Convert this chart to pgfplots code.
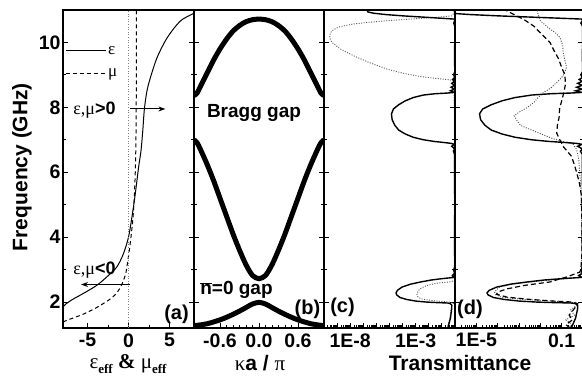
\documentclass[border=0pt]{standalone}
\usepackage{pgfplots}
\usepackage{pgfplotstable}
\pgfplotsset{compat=1.18}
\usepackage{fontspec}
\setmainfont{Liberation Sans}
\newfontfamily\serif{Liberation Serif}
\usetikzlibrary{arrows.meta}

\newcommand{\tf}{\rmfamily\fontsize{19.5bp}{21bp}\selectfont\bfseries}
\newcommand{\af}{\rmfamily\fontsize{18bp}{20bp}\selectfont\bfseries}
\newcommand{\lf}{\rmfamily\fontsize{21bp}{24bp}\selectfont\bfseries}
\newcommand{\pf}{\rmfamily\fontsize{20bp}{22bp}\selectfont\bfseries}
\newcommand{\gf}{\serif\fontsize{18bp}{20bp}\selectfont}

\pgfplotstableread{
F L
1.20 -0.55
1.35 -0.45
1.50 -0.35
1.65 -0.30
1.80 -0.25
1.90 -0.25
1.95 -0.35
1.97 -0.55
1.985 -1.5
2.00 -2.2
2.03 -3.0
2.08 -3.7
2.14 -4.2
2.22 -4.45
2.28 -4.5
2.36 -4.4
2.46 -4.05
2.55 -3.4
2.62 -2.6
2.68 -1.8
2.72 -1.0
2.745 -0.4
2.76 -0.05
2.82 -0.2
2.88 -0.03
2.98 -0.1
3.10 -0.02
4.00 -0.03
5.00 -0.02
6.00 -0.03
6.55 -0.03
6.65 -0.12
6.72 -0.03
6.80 -0.25
6.86 -0.05
6.89 -0.3
6.91 -0.7
6.95 -1.6
7.00 -2.4
7.08 -3.2
7.18 -3.8
7.30 -4.3
7.45 -4.6
7.62 -4.8
7.80 -4.85
7.95 -4.7
8.08 -4.3
8.20 -3.8
8.30 -3.2
8.38 -2.4
8.42 -1.5
8.44 -0.6
8.46 -0.05
8.51 -0.35
8.56 -0.05
8.62 -0.3
8.68 -0.04
8.74 -0.25
8.80 -0.04
8.86 -0.18
8.92 -0.03
9.00 -0.1
9.10 -0.02
9.60 -0.03
10.10 -0.02
10.50 -0.02
10.60 -0.1
10.66 -0.03
10.72 -0.05
10.74 -0.8
10.78 -2.4
10.82 -4.0
10.86 -5.3
10.90 -6.2
10.94 -6.65
10.98 -6.7
11.02 -6.6
}\solidT

\pgfplotstableread{
F L
1.20 -0.6
1.40 -0.45
1.60 -0.35
1.80 -0.3
1.92 -0.2
1.97 -0.1
2.00 -0.4
2.04 -1.66
2.10 -2.6
2.17 -2.85
2.26 -2.92
2.40 -2.7
2.51 -2.16
2.58 -1.4
2.62 -0.4
2.66 -0.05
3.50 -0.05
5.00 -0.06
6.50 -0.05
8.00 -0.06
8.80 -0.08
8.85 -0.39
8.89 -1.4
8.95 -2.67
9.05 -3.94
9.18 -5.2
9.37 -6.48
9.59 -7.75
9.80 -8.76
10.00 -9.39
10.10 -9.52
10.20 -9.57
10.30 -9.5
10.36 -9.39
10.43 -9.1
10.49 -8.76
10.57 -7.75
10.62 -6.6
10.67 -5.2
10.74 -2.67
10.78 -1.3
10.82 -0.26
10.90 -0.08
11.05 -0.1
}\dotC

\pgfplotstableread{
F L
1.20 -0.6
1.30 -0.8
1.45 -0.5
1.60 -0.65
1.80 -0.4
1.95 -0.25
2.00 -0.47
2.03 -1.39
2.08 -2.46
2.15 -3.55
2.24 -4.05
2.31 -4.0
2.41 -3.53
2.51 -2.77
2.62 -1.54
2.70 -1.15
2.77 -0.77
2.85 -0.45
2.92 -0.16
3.00 -0.1
3.50 -0.05
4.50 -0.05
5.30 -0.08
5.64 -0.16
6.00 -0.3
6.36 -0.47
6.50 -0.55
6.77 -0.9
6.95 -1.05
7.20 -1.23
7.45 -1.2
7.69 -1.12
7.95 -1.1
8.20 -1.0
8.45 -0.9
8.72 -0.82
9.00 -0.85
9.23 -1.0
9.50 -1.15
9.74 -1.35
10.00 -1.55
10.26 -1.95
10.50 -2.3
10.72 -2.8
10.85 -3.2
11.00 -3.65
11.05 -3.8
}\dashD

\pgfplotstableread{
F L
1.20 -0.7
1.30 -0.5
1.45 -0.8
1.60 -0.4
1.75 -0.6
1.90 -0.3
1.98 -0.4
2.02 -1.23
2.08 -2.77
2.15 -3.84
2.23 -4.1
2.31 -4.15
2.46 -3.92
2.57 -3.23
2.67 -1.69
2.72 -0.8
2.76 -0.2
3.00 -0.05
4.50 -0.05
5.50 -0.1
6.40 -0.2
6.70 -0.3
6.87 -0.47
6.97 -1.08
7.03 -1.39
7.23 -2.15
7.44 -2.92
7.60 -3.1
7.74 -3.23
7.85 -3.0
8.00 -2.6
8.15 -2.31
8.30 -2.1
8.46 -1.85
8.60 -1.5
8.72 -1.31
8.85 -1.1
8.98 -0.93
9.23 -0.77
9.45 -0.85
9.69 -0.93
9.90 -0.95
10.15 -1.08
10.30 -1.3
10.41 -1.54
10.55 -1.8
10.67 -2.0
10.85 -2.1
11.00 -2.15
11.05 -2.2
}\dotD

\pgfplotsset{
 panel/.style={
   scale only axis, height=318bp, ymin=1.2, ymax=11,
   anchor=north west,
   axis line style={line width=1.2bp},
   every tick/.style={line width=0.9bp, black},
   major tick length=5bp, minor tick length=3bp,
   tick align=inside,
   xtick pos=bottom, ytick pos=both,
   ytick={2,4,6,8,10}, minor y tick num=1,
   yticklabels={},
   tick label style={font=\tf},
   xticklabel style={yshift=-2bp},
   yticklabel style={xshift=1bp},
   /pgf/number format/assume math mode=true,
 }
}

\begin{document}
\begin{tikzpicture}
% (a)
\begin{axis}[panel, at={(63bp,-10bp)}, width=131bp,
  xmin=-8, xmax=8, xtick={-5,0,5}, xticklabels={-5,0,5}, minor x tick num=1,
  yticklabels={2,4,6,8,10},
  legend style={draw=none, fill=none, at={(0,1)}, anchor=north west,
    xshift=2bp, yshift=-34bp, font=\serif\fontsize{17bp}{19bp}\selectfont,
    row sep=9bp, inner sep=0pt},
  legend cell align=left,
  legend image code/.code={\draw[#1] (0bp,0bp) -- (40bp,0bp);}]
\addplot[black, line width=1bp, smooth] coordinates {
(-8.0,1.85) (-7.6,1.95) (-6.7,2.1) (-5.55,2.26) (-3.9,2.51) (-2.67,2.77)
(-1.43,3.08) (-0.62,3.49) (0,4.0) (0.42,4.62) (0.83,5.34) (1.23,6.15)
(1.53,6.67) (1.75,7.3) (1.94,7.95) (2.25,8.5) (2.68,8.92) (3.5,9.54)
(4.74,10.15) (6.38,10.67) (8.2,10.92)};
\addlegendentry{ε}
\addplot[black, line width=1bp, dash pattern=on 4bp off 3bp, smooth] coordinates {
(-8,1.38) (-7.5,1.44) (-6.3,1.55) (-5.4,1.64) (-4.1,1.8) (-3.1,1.95)
(-2.2,2.1) (-1.5,2.26) (-1.0,2.45) (-0.6,2.67) (-0.32,2.9) (-0.2,3.08)
(0.05,3.5) (0.3,4.0) (0.55,4.6) (0.72,5.3) (0.85,6.2) (0.92,7.2)
(0.95,8.5) (0.96,11)};
\addlegendentry{μ}
\addplot[gray, line width=0.6bp, dotted, forget plot] coordinates {(0,1.2) (0,11)};
\draw[line width=1bp, -{Stealth[length=7bp,width=5bp]}] (axis cs:0.2,7.95) -- (axis cs:4.5,7.95);
\draw[line width=1bp, -{Stealth[length=7bp,width=5bp]}] (axis cs:0.2,2.54) -- (axis cs:-5.8,2.54);
\end{axis}
% (b)
\begin{axis}[panel, at={(194bp,-10bp)}, width=130bp,
  xmin=-1, xmax=1, xtick={-0.6,0,0.6}, xticklabels={-0.6,0.0,0.6}, minor x tick num=5]
\addplot[black, line width=5bp, smooth] coordinates {
(-1,1.27) (-0.8,1.33) (-0.6,1.45) (-0.5,1.53) (-0.4,1.62) (-0.3,1.72)
(-0.2,1.83) (-0.1,1.94) (0,1.99) (0.1,1.94) (0.2,1.83) (0.3,1.72)
(0.4,1.62) (0.5,1.53) (0.6,1.45) (0.8,1.33) (1,1.27)};
\addplot[black, line width=5bp, smooth] coordinates {
(-1,7.0) (-0.95,6.9) (-0.9,6.7) (-0.8,6.25) (-0.7,5.75) (-0.6,5.2)
(-0.5,4.65) (-0.4,4.1) (-0.3,3.6) (-0.2,3.15) (-0.1,2.82) (0,2.72)
(0.1,2.82) (0.2,3.15) (0.3,3.6) (0.4,4.1) (0.5,4.65) (0.6,5.2)
(0.7,5.75) (0.8,6.25) (0.9,6.7) (0.95,6.9) (1,7.0)};
\addplot[black, line width=5bp, smooth] coordinates {
(-1,8.36) (-0.95,8.45) (-0.9,8.65) (-0.8,9.05) (-0.7,9.45) (-0.6,9.8)
(-0.5,10.1) (-0.4,10.35) (-0.3,10.52) (-0.2,10.64) (-0.1,10.7) (0,10.72)
(0.1,10.7) (0.2,10.64) (0.3,10.52) (0.4,10.35) (0.5,10.1) (0.6,9.8)
(0.7,9.45) (0.8,9.05) (0.9,8.65) (0.95,8.45) (1,8.36)};
\end{axis}
% (c)
\begin{axis}[panel, at={(324bp,-10bp)}, width=131bp, xmode=log,
  xmin=1e-10, xmax=1,
  xtick={1e-10,1e-9,1e-8,1e-7,1e-6,1e-5,1e-4,1e-3,1e-2,1e-1,1},
  xticklabels={,,1E-8,,,,,1E-3,,,}]
\addplot[black!65, line width=0.9bp, dash pattern=on 1bp off 1.5bp] table[x expr={10^(\thisrow{L})}, y=F] {\dotC};
\addplot[black, line width=1.4bp] table[x expr={10^(\thisrow{L})}, y=F] {\solidT};
\end{axis}
% (d)
\begin{axis}[panel, at={(455bp,-10bp)}, width=128bp, xmode=log,
  xmin=1e-6, xmax=1,
  xtick={1e-6,1e-5,1e-4,1e-3,1e-2,1e-1,1},
  xticklabels={,1E-5,,,,0.1,}]
\addplot[black!70, line width=0.9bp, dash pattern=on 1bp off 1.5bp] table[x expr={10^(\thisrow{L})}, y=F] {\dotD};
\addplot[black, line width=1.2bp, dash pattern=on 5bp off 3bp] table[x expr={10^(\thisrow{L})}, y=F] {\dashD};
\addplot[black, line width=1.4bp] table[x expr={10^(\thisrow{L})}, y=F] {\solidT};
\end{axis}
% texts
\node[rotate=90] at (22bp,-167bp) {\lf Frequency (GHz)};
\node[inner sep=0pt] at (128bp,-364bp) {\serif\fontsize{21bp}{24bp}\selectfont ε\raisebox{-5bp}{\fontsize{13bp}{14bp}\selectfont\bfseries eff} {\bfseries\&} μ\raisebox{-5bp}{\fontsize{13bp}{14bp}\selectfont\bfseries eff}};
\node[inner sep=0pt] at (260bp,-363bp) {\serif\fontsize{21bp}{24bp}\selectfont κ{\lf a / }π};
\node[inner sep=0pt] at (460bp,-363bp) {\lf Transmittance};
\node at (94.5bp,-110bp) {\gf ε,μ{\af >0}};
\node at (94.5bp,-270bp) {\gf ε,μ{\af <0}};
\node at (254bp,-113bp) {\fontsize{19bp}{21bp}\selectfont\bfseries Bragg gap};
\node at (236.5bp,-290bp) {\fontsize{19bp}{21bp}\selectfont\bfseries $\overline{\mbox{n}}$=0 gap};
\node at (176.5bp,-314bp) {\pf (a)};
\node at (307.5bp,-309.5bp) {\pf (b)};
\node at (342.5bp,-307.5bp) {\pf (c)};
\node at (470bp,-309bp) {\pf (d)};
\pgfresetboundingbox
\path[use as bounding box] (0,0) rectangle (582bp,-385bp);
\end{tikzpicture}
\end{document}
